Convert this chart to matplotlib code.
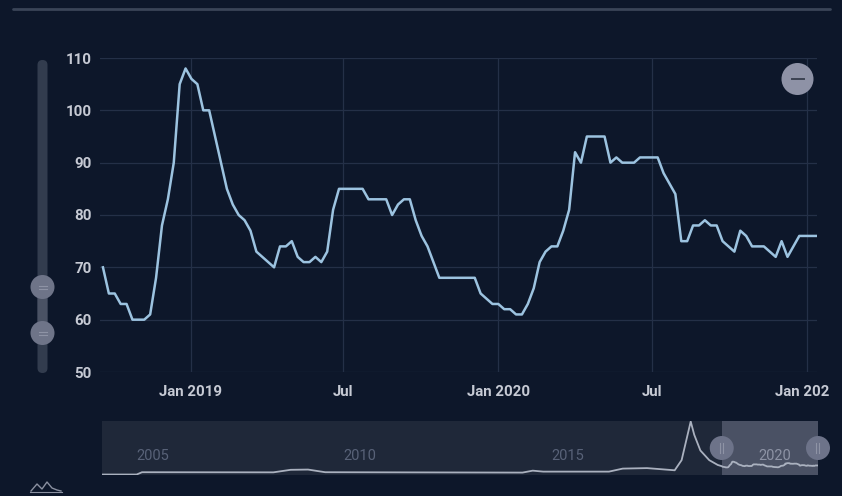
import matplotlib
matplotlib.use('Agg')
import matplotlib.pyplot as plt
import matplotlib.dates as mdates
import pandas as pd
import numpy as np
from matplotlib.patches import Circle, FancyBboxPatch
from matplotlib.transforms import Bbox, TransformedBbox, blended_transform_factory

# ---------------- data ----------------
start_date = '2018-09-19'
values = [70, 65, 65, 63, 63, 60, 60, 60, 61, 68,
          78, 83, 90, 105, 108, 106, 105, 100, 100, 95,
          90, 85, 82, 80, 79, 77, 73, 72, 71, 70,
          74, 74, 75, 72, 71, 71, 72, 71, 73, 81,
          85, 85, 85, 85, 85, 83, 83, 83, 83, 80,
          82, 83, 83, 79, 76, 74, 71, 68, 68, 68,
          68, 68, 68, 68, 65, 64, 63, 63, 62, 62,
          61, 61, 63, 66, 71, 73, 74, 74, 77, 81,
          92, 90, 95, 95, 95, 95, 90, 91, 90, 90,
          90, 91, 91, 91, 91, 88, 86, 84, 75, 75,
          78, 78, 79, 78, 78, 75, 74, 73, 77, 76,
          74, 74, 74, 73, 72, 75, 72, 74, 76, 76,
          76, 76]

y_ticks = [50, 60, 70, 80, 90, 100, 110]
x_tick_dates = ['2019-01-01', '2019-07-01', '2020-01-01', '2020-07-01', '2021-01-01']
x_tick_labels = ['Jan 2019', 'Jul', 'Jan 2020', 'Jul', 'Jan 2021']

nav_early_dates = ['2003-10-15', '2004-08-15', '2004-10-01', '2007-12-01', '2008-05-01',
                   '2008-10-01', '2009-03-01', '2013-12-01', '2014-03-01', '2014-06-01',
                   '2016-01-01', '2016-05-01', '2016-12-01', '2017-08-01', '2017-10-01',
                   '2017-11-15', '2017-12-20', '2018-01-20', '2018-03-15', '2018-06-01',
                   '2018-08-15']
nav_early_values = [1, 1, 20, 19, 40, 42, 20, 17, 33, 25,
                    25, 50, 54, 36, 120, 300, 440, 330, 200, 120,
                    80]
nav_years = ['2005', '2010', '2015', '2020']

# ---------------- style ----------------
BG = '#0d172a'
GRID = '#243047'
TXT = '#c6cad4'
LINE = '#9cc3e0'
W, H = 842, 496

plt.rcParams['font.family'] = ['Roboto', 'DejaVu Sans']

dates = pd.date_range(start_date, periods=len(values), freq='7D')
series = pd.Series(values, index=dates)
nav_dates = list(pd.to_datetime(nav_early_dates)) + list(dates)
nav_vals = list(nav_early_values) + list(values)

fig = plt.figure(figsize=(W / 100, H / 100), dpi=100, facecolor=BG)

# background overlay (pixel coordinates)
ov = fig.add_axes([0, 0, 1, 1], zorder=0)
ov.set_xlim(0, W)
ov.set_ylim(H, 0)
ov.axis('off')
ov.plot([13, 830], [9, 9], color='#3a4558', lw=2, solid_capstyle='round')
# left vertical slider
ov.add_patch(FancyBboxPatch((37.5, 60), 10, 313, boxstyle='round,pad=0,rounding_size=5',
                            fc='#323c4e', ec='none'))
ov.add_patch(FancyBboxPatch((37.5, 287), 10, 46, boxstyle='round,pad=0,rounding_size=0',
                            fc='#4a5264', ec='none'))
# mini icon bottom-left
ov.plot([31, 37, 42, 47, 52, 57, 61], [491, 484, 489, 482, 488, 490, 491], color='#8a90a0', lw=1)
ov.plot([30, 62], [492, 492], color='#8a90a0', lw=0.8)

# ---------------- main chart ----------------
ax = fig.add_axes([100 / W, 1 - 372 / H, 717 / W, 314 / H], zorder=2)
ax.set_facecolor('none')
ax.plot(series.index, series.values, color=LINE, lw=1.8, solid_joinstyle='round', zorder=3)
ax.set_ylim(min(y_ticks), max(y_ticks))
ax.set_xlim(dates[0] - pd.Timedelta(days=3.5), dates[-1])
ax.set_yticks(y_ticks)
ax.set_xticks(pd.to_datetime(x_tick_dates))
ax.set_xticklabels(x_tick_labels)
ax.grid(True, color=GRID, lw=0.9)
for s in ax.spines.values():
    s.set_visible(False)
ax.tick_params(axis='both', length=0, colors=TXT, labelsize=10.8)
ax.tick_params(axis='y', pad=6)
ax.tick_params(axis='x', pad=9.5)
for lbl in ax.get_xticklabels() + ax.get_yticklabels():
    lbl.set_fontweight('bold')
clip = TransformedBbox(Bbox([[0, 0], [829 / W, 1]]), fig.transFigure)
for lbl in ax.get_xticklabels():
    lbl.set_clip_on(True)
    lbl.set_clip_box(clip)

# ---------------- navigator ----------------
nav = fig.add_axes([102 / W, 1 - 475 / H, 716 / W, 54 / H], zorder=1)
nav.set_facecolor('#1f2839')
nav.axvspan(dates[0], dates[-1], color='#4a5164', lw=0, zorder=0)
nav.plot(nav_dates, nav_vals, color='#aab1bf', lw=1.3, zorder=2)
nav.set_xlim(nav_dates[0], nav_dates[-1])
nav.set_ylim(-3, max(nav_vals) + 4)
nav.set_xticks([])
nav.set_yticks([])
for s in nav.spines.values():
    s.set_visible(False)
tr = blended_transform_factory(nav.transData, nav.transAxes)
for yr in nav_years:
    c = '#8d93a5' if yr == '2020' else '#586278'
    nav.text(pd.Timestamp(yr + '-01-01'), 0.35, yr, transform=tr, ha='center', va='center',
             color=c, fontsize=10.5, zorder=1)

# ---------------- foreground controls ----------------
ov2 = fig.add_axes([0, 0, 1, 1], zorder=5)
ov2.set_xlim(0, W)
ov2.set_ylim(H, 0)
ov2.axis('off')
ov2.set_facecolor('none')

for cy in (287, 333):
    ov2.add_patch(Circle((42.5, cy), 12, fc='#6e7488', ec='none'))
    ov2.plot([38.5, 46.5], [cy - 1.5, cy - 1.5], color='#8e93a5', lw=0.8)
    ov2.plot([38.5, 46.5], [cy + 1.5, cy + 1.5], color='#8e93a5', lw=0.8)

ov2.add_patch(Circle((797.5, 79), 16, fc='#8e92a6', ec='none'))
ov2.plot([791.5, 803.5], [79, 79], color='#3c4252', lw=1.4)

fig.canvas.draw()
for d in (dates[0], dates[-1]):
    px, py = nav.transData.transform((mdates.date2num(d), 0))
    hx = px
    ov2.add_patch(Circle((hx, 448), 12, fc='#6d7389', ec='none'))
    ov2.plot([hx - 1.5, hx - 1.5], [443, 453], color='#8e93a5', lw=0.8)
    ov2.plot([hx + 1.5, hx + 1.5], [443, 453], color='#8e93a5', lw=0.8)

fig.savefig('out.png', dpi=100, facecolor=BG)
